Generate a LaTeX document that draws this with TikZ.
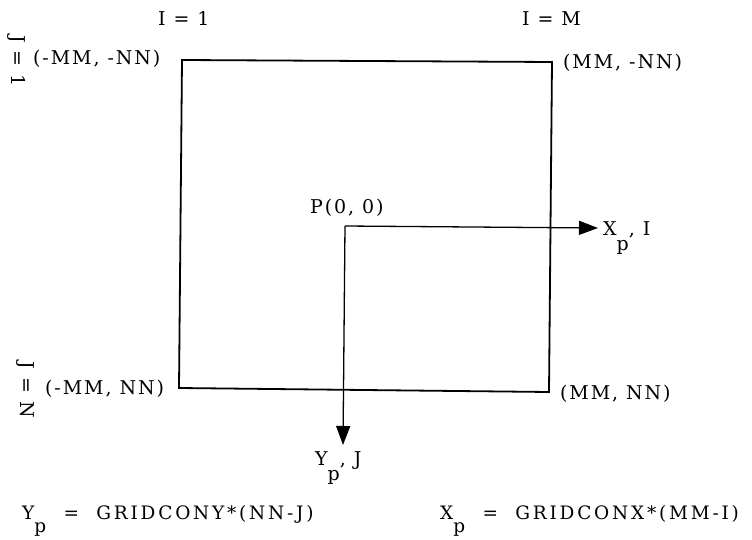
\documentclass[tikz,border=0pt]{standalone}
\usepackage{fontspec}
\setmainfont{DejaVu Serif}[LetterSpace=10]
\usetikzlibrary{arrows.meta}
\tikzset{
  lbl/.style={inner sep=0pt, anchor=base west, font=\fontsize{19}{22}\selectfont},
  frm/.style={inner sep=0pt, anchor=base west, font=\fontsize{18.5}{22}\selectfont\addfontfeature{LetterSpace=15}},
  box/.style={line width=1.8pt, line join=miter},
  axis/.style={line width=1.3pt, -{Triangle[length=19pt,width=14pt]}}
}
\newcommand{\lowp}{\raisebox{-15pt}{p}}
\newcommand{\flowp}{\raisebox{-13pt}{p}}
\begin{document}
\begin{tikzpicture}[x=1pt,y=-1pt]
\useasboundingbox (0,0) rectangle (752,540);
\coordinate (tl) at (182,60);
\coordinate (tr) at (552,62);
\coordinate (br) at (549,392);
\coordinate (bl) at (179,388);
\draw[box] (tl) -- (tr) -- (br) -- (bl) -- cycle;
\coordinate (o) at (345,226);
\coordinate (xe) at (598,228);
\coordinate (ye) at (343,445);
\draw[axis] (o) -- (xe);
\draw[axis] (o) -- (ye);
\node[lbl] (i1) at (158,26) {I = 1};
\node[lbl] (im) at (522,26) {I = M};
\node[lbl, anchor=center, rotate=-90] (j1) at (17,61) {J = 1};
\node[lbl, anchor=center, rotate=-90] (jn) at (25,390) {J = N};
\node[lbl] (ctl) at (33,65) {(-MM, -NN)};
\node[lbl] (ctr) at (563,69) {(MM, -NN)};
\node[lbl] (cbl) at (45,394) {(-MM, NN)};
\node[lbl] (cbr) at (560,399) {(MM, NN)};
\node[lbl] (p) at (310,214) {P(0, 0)};
\node[lbl] (xl) at (603,235) {X\lowp, I};
\node[lbl] (yl) at (315,465) {Y\lowp, J};
\node[frm] (fy) at (22,519) {Y\flowp\ \ =\ \ GRIDCONY*(NN-J)};
\node[frm] (fx) at (440,519) {X\flowp\ \ =\ \ GRIDCONX*(MM-I)};
\end{tikzpicture}
\end{document}
